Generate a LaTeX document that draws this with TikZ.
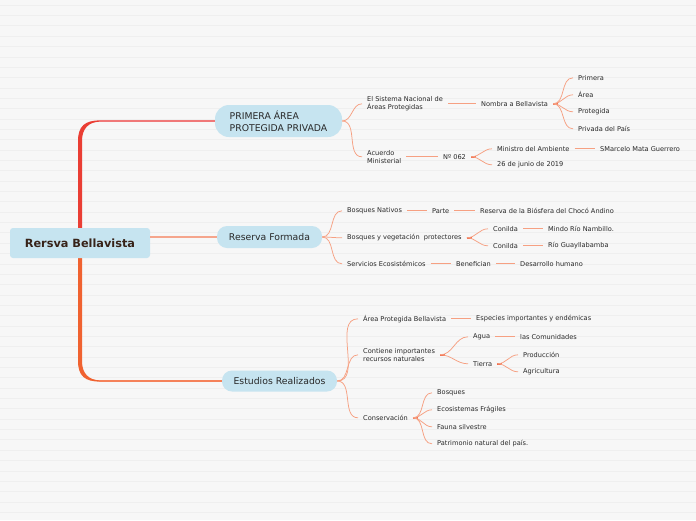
\documentclass[tikz,border=0pt]{standalone}
\usepackage{fontspec}
\setmainfont{DejaVu Sans}
\definecolor{bgc}{RGB}{247,247,247}
\definecolor{stripe}{RGB}{239,239,239}
\definecolor{pillc}{RGB}{198,228,240}
\definecolor{txt}{RGB}{40,40,40}
\definecolor{rootc}{RGB}{55,35,25}
\definecolor{lnk}{RGB}{246,160,130}
\definecolor{stubc}{RGB}{240,100,70}
\definecolor{trunkR}{RGB}{234,62,52}
\definecolor{trunkO}{RGB}{240,98,48}
\definecolor{lineR}{RGB}{240,120,120}
\definecolor{lineO}{RGB}{245,130,90}
\definecolor{lineM}{RGB}{245,165,140}
\begin{document}
\begin{tikzpicture}[x=1pt,y=-1pt,
  lbl/.style={anchor=west,inner xsep=5pt,inner ysep=1pt,yshift=-0.8pt,font=\fontsize{6.6}{7.9}\selectfont,text=txt,align=left},
  pill/.style={fill=pillc,inner sep=0pt,font=\fontsize{9.3}{11.5}\selectfont,text=txt,align=left},
  link/.style={draw=lnk,line width=0.75pt},
  curv/.style={out=0,in=180},
  stub/.style={draw=stubc,line width=1.4pt}]
\useasboundingbox (0,0) rectangle (696,520);
\fill[bgc] (0,0) rectangle (696,520);
\foreach \i in {0,...,50} \draw[stripe,line width=0.5pt] (0,5+10.35*\i) -- (696,5+10.35*\i);

% main nodes
\node[pill,minimum width=127pt,minimum height=32pt,rounded corners=14pt] (p1) at (278.5,121) {PRIMERA ÁREA\\PROTEGIDA PRIVADA};
\node[pill,minimum width=105pt,minimum height=22pt,rounded corners=10pt] (p2) at (269.5,237) {Reserva Formada};
\node[pill,minimum width=115pt,minimum height=21pt,rounded corners=10pt] (p3) at (279.5,381) {Estudios Realizados};

\coordinate (t1) at (99,121);
\coordinate (t3) at (99,381);
\fill[trunkR] (78,243) -- (78,141) .. controls (78,126) and (85,120.4) .. (100,120.4)
  -- (100,121.6) .. controls (89,122) and (82,128) .. (82,141) -- (82,243) -- cycle;
\fill[trunkO] (78,243) -- (78,361) .. controls (78,376) and (85,381.6) .. (100,381.6)
  -- (100,380.4) .. controls (89,380) and (82,374) .. (82,361) -- (82,243) -- cycle;
\draw[draw=lineR,line width=1.1pt] (t1) -- (p1.west);
\draw[draw=lineO,line width=1.1pt] (t3) -- (p3.west);

\node[fill=pillc,rounded corners=3pt,minimum width=140pt,minimum height=30pt,inner sep=0pt,
  font=\bfseries\fontsize{11.3}{13}\selectfont,text=rootc] (r) at (80,243) {Rersva Bellavista};
\draw[draw=lineM,line width=1.1pt] (r.east |- p2.west) -- (p2.west);

% PRIMERA branch
\node[lbl] (a1) at (362,103) {El Sistema Nacional de\\Áreas Protegidas};
\node[lbl] (a2) at (362,156) {Acuerdo\\Ministerial};
\node[lbl] (a11) at (476,103) {Nombra a Bellavista};
\node[lbl] (a111) at (573,77) {Primera};
\node[lbl] (a112) at (573,94) {Área};
\node[lbl] (a113) at (573,111) {Protegida};
\node[lbl] (a114) at (573,128) {Privada del País};
\node[lbl] (a21) at (438,156) {Nº 062};
\node[lbl] (a211) at (492,148) {Ministro del Ambiente};
\node[lbl] (a212) at (492,164) {26 de junio de 2019};
\node[lbl] (a2111) at (595,148) {SMarcelo Mata Guerrero};
\draw[link] (p1.east) to[curv] (a1.west);
\draw[link] (p1.east) to[curv] (a2.west);
\draw[link] (a1.east |- a11.west) -- (a11.west);
\draw[stub] (a11.east) -- ++(5,0);
\foreach \n in {a111,a112,a113,a114} \draw[link] (a11.east) to[curv] (\n.west);
\draw[link] (a2.east |- a21.west) -- (a21.west);
\draw[stub] (a21.east) -- ++(5,0);
\draw[link] (a21.east) to[curv] (a211.west);
\draw[link] (a21.east) to[curv] (a212.west);
\draw[link] (a211.east) -- (a2111.west);

% Reserva branch
\node[lbl] (b1) at (342,210) {Bosques Nativos};
\node[lbl] (b11) at (427,210) {Parte};
\node[lbl] (b111) at (475,210) {Reserva de la Biósfera del Chocó Andino};
\node[lbl] (b2) at (342,237) {Bosques y vegetación\ \ protectores};
\node[lbl] (b21) at (488,228) {Conilda};
\node[lbl] (b211) at (543,228) {Mindo Río Nambillo.};
\node[lbl] (b22) at (488,245) {Conilda};
\node[lbl] (b221) at (543,245) {Río Guayllabamba};
\node[lbl] (b3) at (342,263) {Servicios Ecosistémicos};
\node[lbl] (b31) at (451,263) {Benefician};
\node[lbl] (b311) at (515,263) {Desarrollo humano};
\foreach \n in {b1,b2,b3} \draw[link] (p2.east) to[curv] (\n.west);
\draw[link] (b1.east) -- (b11.west);
\draw[link] (b11.east) -- (b111.west);
\draw[stub] (b2.east) -- ++(5,0);
\draw[link] (b2.east) to[curv] (b21.west);
\draw[link] (b2.east) to[curv] (b22.west);
\draw[link] (b21.east) -- (b211.west);
\draw[link] (b22.east) -- (b221.west);
\draw[link] (b3.east) -- (b31.west);
\draw[link] (b31.east) -- (b311.west);

% Estudios branch
\node[lbl] (c1) at (358,318) {Área Protegida Bellavista};
\node[lbl] (c11) at (471,318) {Especies importantes y endémicas};
\node[lbl] (c2) at (358,354) {Contiene importantes\\recursos naturales};
\node[lbl] (c21) at (468,336) {Agua};
\node[lbl] (c211) at (515,336) {las Comunidades};
\node[lbl] (c22) at (468,363) {Tierra};
\node[lbl] (c221) at (518,354) {Producción};
\node[lbl] (c222) at (518,371) {Agricultura};
\node[lbl] (c3) at (358,417) {Conservación};
\node[lbl] (c31) at (432,392) {Bosques};
\node[lbl] (c32) at (432,409) {Ecosistemas Frágiles};
\node[lbl] (c33) at (432,426) {Fauna silvestre};
\node[lbl] (c34) at (432,443) {Patrimonio natural del país.};
\foreach \n in {c1,c2,c3} \draw[link] (p3.east) to[curv] (\n.west);
\draw[link] (c1.east) -- (c11.west);
\draw[stub] (c2.east) -- ++(5,0);
\draw[link] (c2.east) to[curv] (c21.west);
\draw[link] (c2.east) to[curv] (c22.west);
\draw[link] (c21.east) -- (c211.west);
\draw[stub] (c22.east) -- ++(5,0);
\draw[link] (c22.east) to[curv] (c221.west);
\draw[link] (c22.east) to[curv] (c222.west);
\draw[stub] (c3.east) -- ++(5,0);
\foreach \n in {c31,c32,c33,c34} \draw[link] (c3.east) to[curv] (\n.west);
\end{tikzpicture}
\end{document}
